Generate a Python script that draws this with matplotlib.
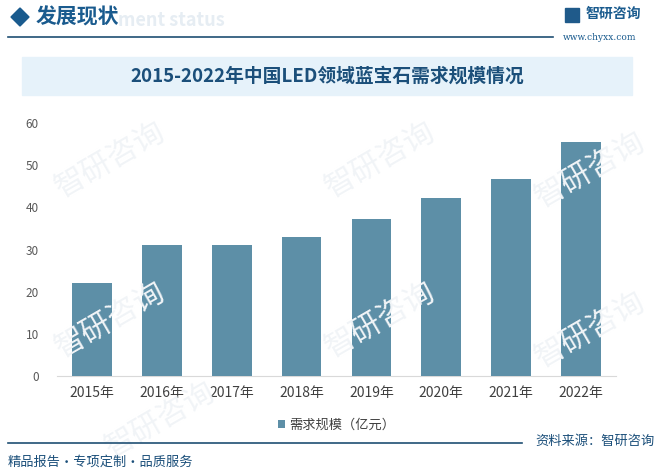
import matplotlib
matplotlib.use('Agg')
import matplotlib.pyplot as plt
from matplotlib.patches import Rectangle, Polygon
from matplotlib.lines import Line2D

plt.rcParams['font.family'] = ['Noto Sans CJK SC', 'DejaVu Sans']

years = ['2015年', '2016年', '2017年', '2018年', '2019年', '2020年', '2021年', '2022年']
demand = [22.1, 31.1, 31.1, 33.0, 37.2, 42.2, 46.7, 55.5]
yticks = [0, 10, 20, 30, 40, 50, 60]

title = '2015-2022年中国LED领域蓝宝石需求规模情况'
legend_label = '需求规模（亿元）'
bar_color = '#5d8fa7'
dark_blue = '#1b4f7a'

fig = plt.figure(figsize=(6.6, 4.73), dpi=100)
W, H = 660, 473

def fx(px):
    return px / W

def fy(py):
    return 1 - py / H

# faint watermarks
for (x, y) in [(110, 160), (380, 160), (590, 170), (110, 320), (380, 320), (590, 330), (160, 420)]:
    fig.text(fx(x), fy(y), '智研咨询', fontsize=22, color='#f1f4f7', rotation=30,
             ha='center', va='center', zorder=0)

# header
fig.patches.append(Polygon([[fx(11), fy(17)], [fx(20), fy(8)], [fx(29), fy(17)], [fx(20), fy(26)]],
                           closed=True, transform=fig.transFigure, color='#1a5b8e'))
fig.text(fx(118), fy(20), 'ment status', fontsize=13, color='#e6edf3', weight='bold',
         va='center', zorder=1)
fig.text(fx(36), fy(17), '发展现状', fontsize=15, color='#1a5b8e', weight='bold', va='center', zorder=2)
fig.add_artist(Line2D([fx(8), fx(553)], [fy(37), fy(37)], color='#1f4f73', lw=1.2))
fig.text(fx(586), fy(14), '智研咨询', fontsize=10, color='#1a5b8e', weight='bold', va='center')
fig.patches.append(Rectangle((fx(565), fy(22)), 14 / W, 14 / H, transform=fig.transFigure,
                             color='#1f5a8a'))
fig.text(fx(600), fy(37), 'www.chyxx.com', fontsize=6.5, color='#1a5b8e', ha='center', va='center',
         family='DejaVu Serif')

# title box
fig.patches.append(Rectangle((fx(22), fy(95)), 610 / W, 38 / H, transform=fig.transFigure,
                             color='#e6f2fa', zorder=0))
fig.text(fx(327), fy(76), title, fontsize=13.5, color=dark_blue, weight='bold',
         ha='center', va='center')

# chart
ax = fig.add_axes([fx(57), fy(376), 559 / W, 253 / H])
ax.patch.set_alpha(0)
x = list(range(len(years)))
ax.bar(x, demand, width=0.57, color=bar_color, label=legend_label, zorder=3)
ax.set_xlim(-0.5, len(years) - 0.5)
ax.set_ylim(0, 60)
ax.set_yticks(yticks)
ax.set_xticks(x)
ax.set_xticklabels(years, fontsize=10, color='#404040')
ax.tick_params(axis='y', length=0, labelsize=8.5, labelcolor='#595959', pad=13)
ax.tick_params(axis='x', length=0, pad=7)
for s in ['top', 'right', 'left']:
    ax.spines[s].set_visible(False)
ax.spines['bottom'].set_color('#d9d9d9')

ax.legend(loc='center', bbox_to_anchor=(0.5, -0.195), frameon=False, fontsize=9.5,
          handlelength=0.6, handleheight=0.6, handletextpad=0.3, labelcolor='#404040')

# footer
fig.add_artist(Line2D([fx(8), fx(522)], [fy(443), fy(443)], color='#1f4f73', lw=1.2))
fig.text(fx(655), fy(441), '资料来源：智研咨询', fontsize=9.5, color=dark_blue, ha='right', va='center')
fig.text(fx(8), fy(462), '精品报告·专项定制·品质服务', fontsize=9.5, color=dark_blue, va='center')

fig.savefig('out.png', dpi=100)
